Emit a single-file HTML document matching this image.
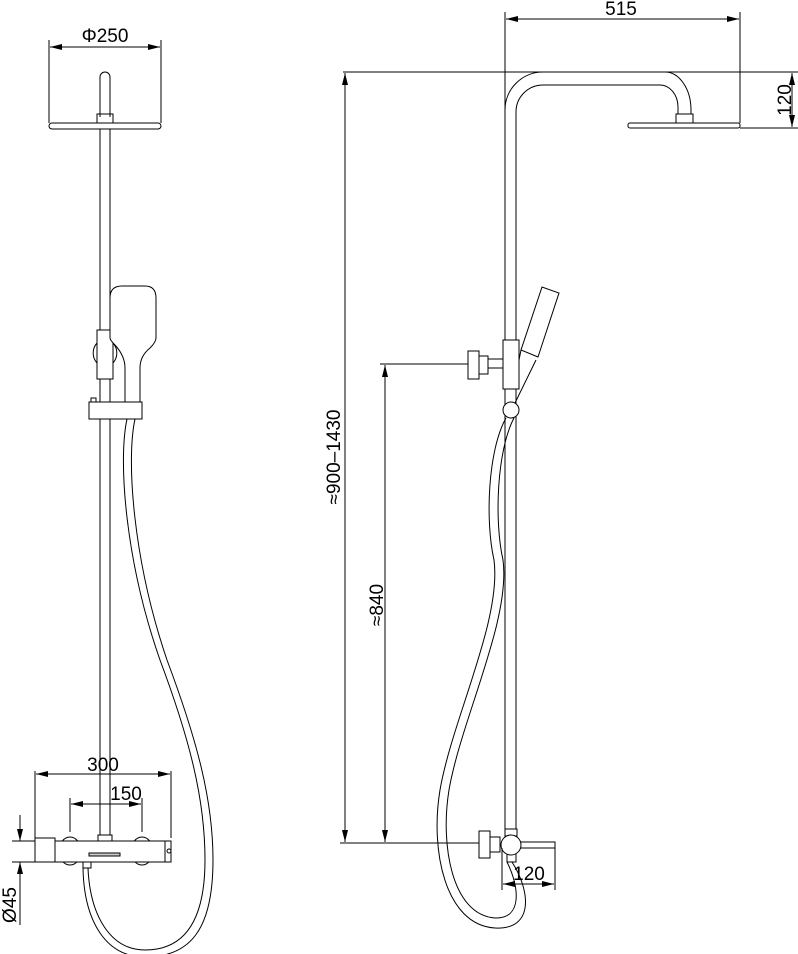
<!DOCTYPE html>
<html><head><meta charset="utf-8"><style>
html,body{margin:0;padding:0;background:#fff;}
svg{display:block;}
text{font-family:"Liberation Sans",sans-serif;font-size:19px;fill:#000;}
</style></head><body>
<svg width="798" height="954" viewBox="0 0 798 954" xmlns="http://www.w3.org/2000/svg">
<defs>
<marker id="a" viewBox="0 0 12 6" refX="12" refY="3" markerWidth="12" markerHeight="6" orient="auto-start-reverse" markerUnits="userSpaceOnUse"><path d="M0,0 L12,3 L0,6 z" fill="#000"/></marker>
</defs>
<g fill="none" stroke="#000" stroke-width="1">
<line x1="49" y1="40" x2="49" y2="123"/><line x1="161" y1="40" x2="161" y2="123"/>
<line x1="50" y1="47" x2="160" y2="47" marker-start="url(#a)" marker-end="url(#a)"/>
<path d="M100,117 V77 A5,5 0 0 1 110,77 V117"/>
<rect x="97" y="114" width="16" height="9"/>
<rect x="49" y="123" width="112" height="6" rx="3"/>
<line x1="100" y1="129" x2="100" y2="835"/><line x1="110" y1="129" x2="110" y2="835"/>
<path d="M97,343 A15,15 0 0 0 97,363"/><path d="M113,343 A15,15 0 0 1 113,363"/>
<rect x="97" y="330" width="16" height="49" fill="#fff"/>
<path d="M110,298 Q110,286 122,286 H145 Q156,286 156,298 V338 Q156,342 150,348 Q140,356 140,368 V402 H125 V368 Q125,356 115,345 Q110,340 110,338 Z" fill="#fff"/>
<rect x="91" y="398" width="5" height="5"/>
<rect x="89" y="402" width="53" height="17" fill="#fff"/>
<path d="M127,419 C118,460 125,560 160,660 C190,740 205,800 205,860 C205,920 185,950 145,950 C110,950 90,915 88,868"/>
<path d="M135,419 C126,460 133,560 167,660 C197,740 213,800 213,860 C213,930 190,957 145,957 C105,957 84,920 83,868" />
<line x1="35" y1="771" x2="35" y2="838"/><line x1="171" y1="771" x2="171" y2="838"/>
<line x1="36" y1="774" x2="170" y2="774" marker-start="url(#a)" marker-end="url(#a)"/>
<line x1="70" y1="798" x2="70" y2="832"/><line x1="142" y1="798" x2="142" y2="832"/>
<line x1="71" y1="804" x2="141" y2="804" marker-start="url(#a)" marker-end="url(#a)"/>
<ellipse cx="70" cy="851" rx="11" ry="14" fill="#fff"/>
<ellipse cx="142" cy="851" rx="11" ry="14" fill="#fff"/>
<rect x="35" y="838" width="20" height="24" fill="#fff"/>
<rect x="55" y="841" width="116" height="21" fill="#fff"/>
<rect x="98" y="835" width="14" height="6" fill="#fff"/>
<rect x="83" y="862" width="8" height="6" fill="#fff"/>
<rect x="89" y="853" width="31" height="3" fill="#ccc"/>
<line x1="165" y1="841" x2="165" y2="862"/><circle cx="169" cy="851" r="2"/>
<line x1="12" y1="841" x2="35" y2="841"/><line x1="12" y1="862" x2="35" y2="862"/>
<line x1="20" y1="815" x2="20" y2="841" marker-end="url(#a)"/>
<line x1="20" y1="862" x2="20" y2="925" marker-start="url(#a)"/>

<line x1="505" y1="12" x2="505" y2="110"/><line x1="740" y1="12" x2="740" y2="123"/>
<line x1="506" y1="19" x2="739" y2="19" marker-start="url(#a)" marker-end="url(#a)"/>
<line x1="343" y1="72" x2="798" y2="72"/>
<line x1="740" y1="128" x2="798" y2="128"/>
<line x1="792" y1="73" x2="792" y2="127" marker-start="url(#a)" marker-end="url(#a)"/>
<path d="M505,835 V110 A38,38 0 0 1 543,72 H665 A26,38 0 0 1 691,110 V114"/>
<path d="M516,835 V112 A27,27 0 0 1 543,85 H660 A18,22 0 0 1 678,107 V114"/>
<rect x="676" y="114" width="17" height="9"/>
<rect x="628" y="123" width="112" height="5" rx="2"/>
<line x1="345" y1="73" x2="345" y2="842" marker-start="url(#a)" marker-end="url(#a)"/>
<line x1="380" y1="364" x2="468" y2="364"/>
<line x1="385" y1="365" x2="385" y2="842" marker-start="url(#a)" marker-end="url(#a)"/>
<line x1="340" y1="843" x2="480" y2="843"/>
<rect x="488" y="359" width="15" height="9"/>
<rect x="479" y="356" width="9" height="18"/>
<rect x="468" y="351" width="11" height="28" fill="#fff"/>
<path d="M538,357 L521,350 L542,287 L559,293 Z" fill="#fff"/>
<line x1="536" y1="360" x2="515" y2="403"/><line x1="521" y1="350" x2="519" y2="360"/>
<rect x="503" y="340" width="16" height="49" fill="#fff"/>
<path d="M506,418 C488,450 485,520 494,560 C502,620 452,720 440,790 C430,850 445,925 495,928 C535,930 530,890 512,862"/>
<path d="M514,418 C497,450 494,520 503,560 C511,620 461,720 449,790 C440,845 452,915 495,918 C522,919 520,888 507,862"/>
<circle cx="511" cy="410" r="8" fill="#fff"/>
<rect x="505" y="829" width="12" height="7" fill="#fff"/>
<rect x="490" y="837" width="10" height="15"/>
<rect x="479" y="831" width="11" height="27" fill="#fff"/>
<rect x="519" y="842" width="36" height="6"/>
<rect x="507" y="853" width="9" height="9" fill="#fff"/>
<circle cx="511" cy="845" r="10" fill="#fff"/>
<line x1="502" y1="848" x2="502" y2="890"/><line x1="555" y1="848" x2="555" y2="890"/>
<line x1="503" y1="884" x2="554" y2="884" marker-start="url(#a)" marker-end="url(#a)"/>
</g>
<text x="105" y="42" text-anchor="middle">Φ250</text>
<text x="103" y="771" text-anchor="middle">300</text>
<text x="126" y="800" text-anchor="middle">150</text>
<text transform="translate(16,905) rotate(-90)" text-anchor="middle">Ø45</text>
<text x="621" y="15" text-anchor="middle">515</text>
<text transform="translate(791,100) rotate(-90)" text-anchor="middle">120</text>
<text transform="translate(340,457) rotate(-90)" text-anchor="middle">≈900–1430</text>
<text transform="translate(383,605) rotate(-90)" text-anchor="middle">≈840</text>
<text x="529" y="880" text-anchor="middle">120</text>
</svg>
</body></html>
